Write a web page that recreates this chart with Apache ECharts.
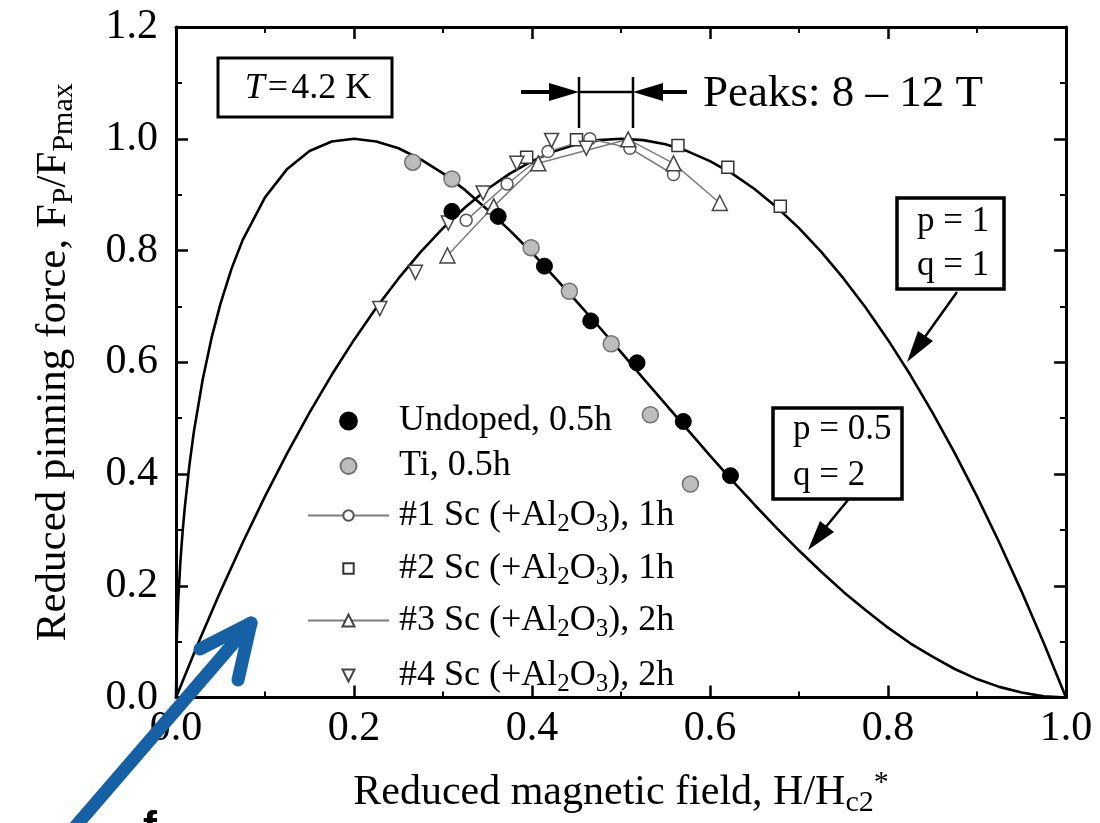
<!DOCTYPE html>
<html><head><meta charset="utf-8">
<script src="https://cdn.jsdelivr.net/npm/echarts@6/dist/echarts.min.js"></script>
<style>html,body{margin:0;padding:0;background:#fff}#c{width:1100px;height:823px}</style>
</head><body><div id="c"></div>
<script>
// ---------- data ----------
const xTickLabels = ['0.0', '0.2', '0.4', '0.6', '0.8', '1.0'];
const yTickLabels = ['0.0', '0.2', '0.4', '0.6', '0.8', '1.0', '1.2'];

const undopedX = [0.310, 0.362, 0.414, 0.466, 0.518, 0.570, 0.623];
const undopedY = [0.870, 0.861, 0.772, 0.674, 0.599, 0.494, 0.397];

const tiX = [0.266, 0.310, 0.399, 0.442, 0.489, 0.533, 0.578];
const tiY = [0.958, 0.928, 0.805, 0.727, 0.633, 0.506, 0.382];

const sc1X = [0.326, 0.372, 0.418, 0.465, 0.510, 0.559];
const sc1Y = [0.854, 0.919, 0.977, 1.000, 0.983, 0.936];

const sc2X = [0.394, 0.450, 0.564, 0.620, 0.679];
const sc2Y = [0.967, 0.998, 0.988, 0.949, 0.879];

const sc3X = [0.305, 0.357, 0.407, 0.508, 0.559, 0.611];
const sc3Y = [0.791, 0.879, 0.956, 0.999, 0.956, 0.885];

const sc4X = [0.229, 0.269, 0.306, 0.345, 0.383, 0.422, 0.461];
const sc4Y = [0.696, 0.761, 0.849, 0.903, 0.956, 0.997, 0.983];

// scaling curve p = 1, q = 1
const curve11X = [0, 0.025, 0.05, 0.075, 0.1, 0.125, 0.15, 0.175, 0.2, 0.225, 0.25, 0.275, 0.3, 0.325, 0.35, 0.375, 0.4, 0.425, 0.45, 0.475, 0.5,
  0.525, 0.55, 0.575, 0.6, 0.625, 0.65, 0.675, 0.7, 0.725, 0.75, 0.775, 0.8, 0.825, 0.85, 0.875, 0.9, 0.925, 0.95, 0.975, 1.0];
const curve11Y = [0, 0.0975, 0.19, 0.2775, 0.36, 0.4375, 0.51, 0.5775, 0.64, 0.6975, 0.75, 0.7975, 0.84, 0.8775, 0.91, 0.9375, 0.96, 0.9775, 0.99, 0.9975, 1.0,
  0.9975, 0.99, 0.9775, 0.96, 0.9375, 0.91, 0.8775, 0.84, 0.7975, 0.75, 0.6975, 0.64, 0.5775, 0.51, 0.4375, 0.36, 0.2775, 0.19, 0.0975, 0];

// scaling curve p = 0.5, q = 2
const curve52X = [0, 0.001, 0.0025, 0.005, 0.0075, 0.01, 0.015, 0.02, 0.03, 0.04, 0.05, 0.0625, 0.075, 0.1, 0.125, 0.15, 0.175, 0.2, 0.225, 0.25,
  0.275, 0.3, 0.325, 0.35, 0.375, 0.4, 0.425, 0.45, 0.475, 0.5, 0.525, 0.55, 0.575, 0.6, 0.625, 0.65, 0.675, 0.7, 0.725, 0.75,
  0.775, 0.8, 0.825, 0.85, 0.875, 0.9, 0.925, 0.95, 0.975, 1.0];
const curve52Y = [0, 0.110, 0.174, 0.245, 0.298, 0.342, 0.415, 0.475, 0.569, 0.644, 0.705, 0.768, 0.819, 0.895, 0.946, 0.978, 0.995, 1.000, 0.995, 0.983,
  0.963, 0.938, 0.908, 0.873, 0.836, 0.796, 0.753, 0.709, 0.664, 0.618, 0.571, 0.525, 0.479, 0.433, 0.388, 0.345, 0.303, 0.263, 0.225, 0.189,
  0.156, 0.125, 0.097, 0.073, 0.051, 0.033, 0.019, 0.009, 0.002, 0];

const seriesNames = ['Undoped, 0.5h', 'Ti, 0.5h', '#1 Sc (+Al2O3), 1h', '#2 Sc (+Al2O3), 1h', '#3 Sc (+Al2O3), 2h', '#4 Sc (+Al2O3), 2h'];

// ---------- chart ----------
const SERIF = "'Liberation Serif', 'Times New Roman', serif";
const zip = (xs, ys) => xs.map((x, i) => [x, ys[i]]);
const chart = echarts.init(document.getElementById('c'), null, {renderer: 'canvas'});

const axisCommon = {
  type: 'value',
  axisLine: {show: true, onZero: false, lineStyle: {color: '#000', width: 3}},
  axisTick: {show: true, inside: true, length: 12, lineStyle: {color: '#000', width: 2.5}},
  minorTick: {show: true, splitNumber: 2, length: 6, lineStyle: {color: '#000', width: 2}},
  splitLine: {show: false},
  minorSplitLine: {show: false}
};

const legendSub = {s: {fontFamily: SERIF, fontSize: 25, lineHeight: 14, padding: [18, 0, 0, 0], color: '#000'}};
const legendFmt = name => name.replace('Al2O3', 'Al{s|2}O{s|3}');
// legend symbol = 0.8 * itemHeight
const legendRows = [
  {name: seriesNames[0], top: 403, ih: 21},
  {name: seriesNames[1], top: 448, ih: 20},
  {name: seriesNames[2], top: 494, ih: 13},
  {name: seriesNames[3], top: 547, ih: 13},
  {name: seriesNames[4], top: 599, ih: 15},
  {name: seriesNames[5], top: 654, ih: 15}
];
const noLine = {color: 'rgba(0,0,0,0)', width: 1};

const option = {
  animation: false,
  backgroundColor: '#fff',
  grid: {left: 176, right: 34, top: 27, bottom: 124, containLabel: false},
  xAxis: [
    Object.assign({}, axisCommon, {
      min: 0, max: 1, interval: 0.2, position: 'bottom',
      axisLabel: {show: true, margin: 10, fontFamily: SERIF, fontSize: 42, lineHeight: 42, color: '#000',
        formatter: v => xTickLabels[Math.round(v / 0.2)]},
      name: 'Reduced magnetic field, H/H{s|c2}{sup|*}',
      nameLocation: 'middle', nameGap: 73,
      nameTextStyle: {fontFamily: SERIF, fontSize: 42, lineHeight: 44, color: '#000',
        rich: {s: {fontFamily: SERIF, fontSize: 30, lineHeight: 20, padding: [21, 0, 0, 0], color: '#000'},
               sup: {fontFamily: SERIF, fontSize: 30, lineHeight: 20, padding: [0, 0, 19, 0], color: '#000'}}}
    }),
    Object.assign({}, axisCommon, {
      min: 0, max: 1, interval: 0.2, position: 'top', axisLabel: {show: false}
    })
  ],
  yAxis: [
    Object.assign({}, axisCommon, {
      min: 0, max: 1.2, interval: 0.2, position: 'left',
      axisLabel: {show: true, margin: 18, fontFamily: SERIF, fontSize: 42, lineHeight: 42, color: '#000',
        formatter: v => yTickLabels[Math.round(v / 0.2)]},
      name: 'Reduced pinning force, F{s|P}/F{s|Pmax}',
      nameLocation: 'middle', nameGap: 100, nameRotate: 90,
      nameTextStyle: {fontFamily: SERIF, fontSize: 43, lineHeight: 44, color: '#000',
        rich: {s: {fontFamily: SERIF, fontSize: 30, lineHeight: 20, padding: [21, 0, 0, 0], color: '#000'}}}
    }),
    Object.assign({}, axisCommon, {
      min: 0, max: 1.2, interval: 0.2, position: 'right', axisLabel: {show: false}
    })
  ],
  legend: legendRows.map(r => ({
    data: [r.name], orient: 'vertical', left: 307, top: r.top, padding: 0,
    itemWidth: 81, itemHeight: r.ih, selectedMode: false,
    formatter: legendFmt,
    textStyle: {fontFamily: SERIF, fontSize: 36, lineHeight: 36, color: '#000', padding: [0, 0, 0, 5], rich: legendSub}
  })),
  series: [
    {name: 'p=1,q=1', type: 'line', data: zip(curve11X, curve11Y), showSymbol: false, symbol: 'none',
      lineStyle: {color: '#000', width: 2.6}, z: 2, silent: true},
    {name: 'p=0.5,q=2', type: 'line', data: zip(curve52X, curve52Y), showSymbol: false, symbol: 'none',
      lineStyle: {color: '#000', width: 2.6}, z: 2, silent: true},
    {name: seriesNames[0], type: 'line', data: zip(undopedX, undopedY), symbol: 'circle', symbolSize: 16, showSymbol: true,
      lineStyle: noLine, itemStyle: {color: '#000', borderColor: '#000', borderWidth: 1, opacity: 1}, z: 5},
    {name: seriesNames[1], type: 'line', data: zip(tiX, tiY), symbol: 'circle', symbolSize: 16, showSymbol: true,
      lineStyle: noLine, itemStyle: {color: '#bdbdbd', borderColor: '#727272', borderWidth: 1.5, opacity: 1}, z: 5},
    {name: seriesNames[2], type: 'line', data: zip(sc1X, sc1Y), symbol: 'circle', symbolSize: 12, showSymbol: true,
      lineStyle: {color: '#7d7d7d', width: 1.5},
      itemStyle: {color: '#fff', borderColor: '#555', borderWidth: 1.5}, z: 4},
    {name: seriesNames[3], type: 'line', data: zip(sc2X, sc2Y), symbol: 'rect', symbolSize: 12, showSymbol: true,
      lineStyle: noLine, itemStyle: {color: '#fff', borderColor: '#333', borderWidth: 1.5, opacity: 1}, z: 4},
    {name: seriesNames[4], type: 'line', data: zip(sc3X, sc3Y), symbol: 'triangle', symbolSize: 15, showSymbol: true,
      lineStyle: {color: '#7d7d7d', width: 1.5},
      itemStyle: {color: '#fff', borderColor: '#444', borderWidth: 1.5}, z: 4},
    {name: seriesNames[5], type: 'line', data: zip(sc4X, sc4Y), symbol: 'triangle', symbolRotate: 180, symbolSize: 14, showSymbol: true,
      lineStyle: noLine, itemStyle: {color: '#fff', borderColor: '#444', borderWidth: 1.5, opacity: 1}, z: 4}
  ],
  graphic: [
    // T = 4.2 K box
    {type: 'rect', shape: {x: 218, y: 58, width: 174, height: 59}, style: {fill: '#fff', stroke: '#000', lineWidth: 3}, z: 20},
    {type: 'text', x: 308, y: 89, z: 21, style: {text: '{i|T}\u200a=\u200a4.2 K', fontFamily: SERIF, fontSize: 36, fill: '#000',
      align: 'center', verticalAlign: 'middle', rich: {i: {fontFamily: SERIF, fontSize: 36, fontStyle: 'italic', fill: '#000'}}}},
    // Peaks annotation
    {type: 'line', shape: {x1: 521, y1: 92, x2: 560, y2: 92}, style: {stroke: '#000', lineWidth: 4}, z: 20},
    {type: 'polygon', shape: {points: [[579, 92], [549, 83], [549, 101]]}, style: {fill: '#000'}, z: 20},
    {type: 'line', shape: {x1: 579, y1: 92, x2: 633, y2: 92}, style: {stroke: '#000', lineWidth: 2.5}, z: 20},
    {type: 'line', shape: {x1: 652, y1: 92, x2: 687, y2: 92}, style: {stroke: '#000', lineWidth: 4}, z: 20},
    {type: 'polygon', shape: {points: [[633, 92], [663, 83], [663, 101]]}, style: {fill: '#000'}, z: 20},
    {type: 'line', shape: {x1: 579, y1: 77, x2: 579, y2: 128}, style: {stroke: '#000', lineWidth: 2.5}, z: 20},
    {type: 'line', shape: {x1: 633, y1: 77, x2: 633, y2: 128}, style: {stroke: '#000', lineWidth: 2.5}, z: 20},
    {type: 'text', x: 703, y: 94, z: 21, style: {text: 'Peaks: 8 \u2013 12 T', fontFamily: SERIF, fontSize: 45, fill: '#000',
      align: 'left', verticalAlign: 'middle'}},
    // p = 1, q = 1 box + arrow
    {type: 'line', shape: {x1: 957, y1: 292, x2: 922, y2: 341}, style: {stroke: '#000', lineWidth: 2.5}, z: 20},
    {type: 'polygon', shape: {points: [[907, 362], [933, 341], [918, 331]]}, style: {fill: '#000'}, z: 20},
    {type: 'rect', shape: {x: 897, y: 198, width: 107, height: 91}, style: {fill: '#fff', stroke: '#000', lineWidth: 3.5}, z: 20},
    {type: 'text', x: 917, y: 222, z: 21, style: {text: 'p = 1', fontFamily: SERIF, fontSize: 35, fill: '#000', align: 'left', verticalAlign: 'middle'}},
    {type: 'text', x: 917, y: 266, z: 21, style: {text: 'q = 1', fontFamily: SERIF, fontSize: 35, fill: '#000', align: 'left', verticalAlign: 'middle'}},
    // p = 0.5, q = 2 box + arrow
    {type: 'line', shape: {x1: 848, y1: 500, x2: 825, y2: 528}, style: {stroke: '#000', lineWidth: 2.5}, z: 20},
    {type: 'polygon', shape: {points: [[808, 550], [834, 532], [820, 521]]}, style: {fill: '#000'}, z: 20},
    {type: 'rect', shape: {x: 773, y: 408, width: 129, height: 91}, style: {fill: '#fff', stroke: '#000', lineWidth: 3.5}, z: 20},
    {type: 'text', x: 793, y: 430, z: 21, style: {text: 'p = 0.5', fontFamily: SERIF, fontSize: 35, fill: '#000', align: 'left', verticalAlign: 'middle'}},
    {type: 'text', x: 793, y: 476, z: 21, style: {text: 'q = 2', fontFamily: SERIF, fontSize: 35, fill: '#000', align: 'left', verticalAlign: 'middle'}},
    // partially visible glyph at bottom edge
    {type: 'text', x: 143, y: 808, z: 21, style: {text: 'f', fontFamily: "'Liberation Sans', sans-serif", fontWeight: 'bold', fontSize: 42, fill: '#000', align: 'left', verticalAlign: 'top'}},
    // blue arrow overlay
    {type: 'polyline', shape: {points: [[62, 842], [251, 623]]}, style: {stroke: '#1660a6', lineWidth: 13, lineCap: 'round', fill: null}, z: 30},
    {type: 'polyline', shape: {points: [[200, 649], [251, 623], [238, 680]]}, style: {stroke: '#1660a6', lineWidth: 13, lineCap: 'round', lineJoin: 'round', fill: null}, z: 30}
  ]
};
chart.setOption(option);
</script>
</body></html>
